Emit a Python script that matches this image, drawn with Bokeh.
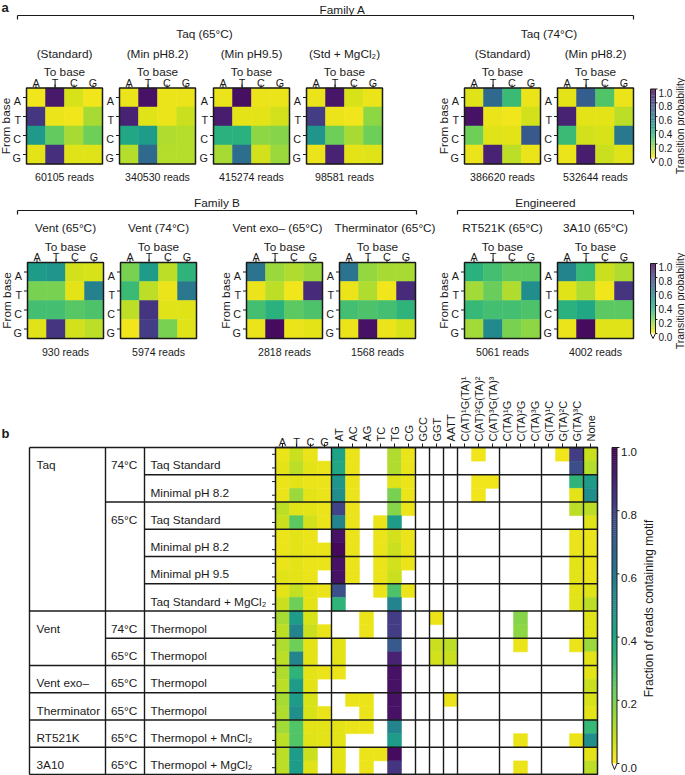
import numpy as np
from bokeh.plotting import figure
from bokeh.models import ColumnDataSource, LinearColorMapper
from bokeh.palettes import Viridis256
from bokeh.transform import transform
from bokeh.embed import file_html
from bokeh.resources import INLINE
from bokeh.core.properties import value

N = None
FONT = "Liberation Sans"
BASES = ["A", "T", "C", "G"]

# ---------------- Panel a data: transition probabilities (rows: from base, cols: to base)
taq65_standard = [[0.02, 0.93, 0.06, 0.02], [0.84, 0.03, 0.02, 0.13], [0.46, 0.24, 0.13, 0.22], [0.04, 0.86, 0.05, 0.05]]
taq65_min82 = [[0.03, 0.95, 0.03, 0.03], [0.90, 0.05, 0.03, 0.08], [0.40, 0.45, 0.12, 0.11], [0.11, 0.66, 0.11, 0.11]]
taq65_min95 = [[0.03, 0.96, 0.03, 0.03], [0.92, 0.04, 0.04, 0.07], [0.36, 0.36, 0.17, 0.18], [0.13, 0.64, 0.07, 0.15]]
taq65_mgcl2 = [[0.03, 0.94, 0.06, 0.03], [0.82, 0.03, 0.02, 0.17], [0.48, 0.22, 0.13, 0.22], [0.03, 0.90, 0.04, 0.05]]
taq74_standard = [[0.05, 0.66, 0.32, 0.03], [0.95, 0.03, 0.02, 0.07], [0.22, 0.05, 0.04, 0.72], [0.03, 0.90, 0.10, 0.03]]
taq74_min82 = [[0.04, 0.70, 0.27, 0.03], [0.90, 0.04, 0.04, 0.10], [0.32, 0.07, 0.06, 0.60], [0.03, 0.92, 0.08, 0.05]]
vent65 = [[0.45, 0.48, 0.07, 0.06], [0.20, 0.20, 0.04, 0.56], [0.30, 0.30, 0.26, 0.28], [0.05, 0.85, 0.07, 0.10]]
vent74 = [[0.20, 0.45, 0.10, 0.35], [0.32, 0.10, 0.03, 0.60], [0.10, 0.85, 0.05, 0.05], [0.02, 0.82, 0.20, 0.05]]
vent_exo65 = [[0.62, 0.15, 0.12, 0.15], [0.03, 0.10, 0.02, 0.88], [0.30, 0.36, 0.25, 0.28], [0.03, 0.97, 0.03, 0.04]]
therminator65 = [[0.62, 0.16, 0.13, 0.13], [0.03, 0.12, 0.02, 0.88], [0.30, 0.28, 0.30, 0.35], [0.03, 0.95, 0.03, 0.06]]
rt521k65 = [[0.36, 0.30, 0.25, 0.25], [0.14, 0.23, 0.12, 0.50], [0.33, 0.30, 0.30, 0.28], [0.14, 0.52, 0.20, 0.17]]
a3a10_65 = [[0.55, 0.33, 0.08, 0.12], [0.05, 0.12, 0.02, 0.85], [0.36, 0.40, 0.25, 0.25], [0.03, 0.97, 0.05, 0.05]]

row1_maps = [taq65_standard, taq65_min82, taq65_min95, taq65_mgcl2, taq74_standard, taq74_min82]
row1_titles = ["(Standard)", "(Min pH8.2)", "(Min pH9.5)", "(Std + MgCl\u2082)", "(Standard)", "(Min pH8.2)"]
row1_reads = ["60105 reads", "340530 reads", "415274 reads", "98581 reads", "386620 reads", "532644 reads"]
row2_maps = [vent65, vent74, vent_exo65, therminator65, rt521k65, a3a10_65]
row2_titles = ["Vent (65\u00b0C)", "Vent (74\u00b0C)", "Vent exo\u2013 (65\u00b0C)", "Therminator (65\u00b0C)", "RT521K (65\u00b0C)", "3A10 (65\u00b0C)"]
row2_reads = ["930 reads", "5974 reads", "2818 reads", "1568 reads", "5061 reads", "4002 reads"]

# ---------------- Panel b data: fraction of reads containing motif
motif_labels = ["A", "T", "C", "G", "AT", "AC", "AG", "TC", "TG", "CG", "GCC", "GGT", "AATT",
                "C(AT)\u00b9G(TA)\u00b9", "C(AT)\u00b2G(TA)\u00b2", "C(AT)\u00b3G(TA)\u00b3",
                "C(TA)\u00b9G", "C(TA)\u00b2G", "C(TA)\u00b3G", "G(TA)\u00b9C", "G(TA)\u00b2C", "G(TA)\u00b3C", "None"]
polymerases = ["Taq", "Taq", "Taq", "Taq", "Taq", "Taq", "Vent", "Vent", "Vent exo\u2013", "Therminator", "RT521K", "3A10"]
temperatures = ["74\u00b0C", "74\u00b0C", "65\u00b0C", "65\u00b0C", "65\u00b0C", "65\u00b0C", "74\u00b0C", "65\u00b0C", "65\u00b0C", "65\u00b0C", "65\u00b0C", "65\u00b0C"]
buffers = ["Taq Standard", "Minimal pH 8.2", "Taq Standard", "Minimal pH 8.2", "Minimal pH 9.5", "Taq Standard + MgCl\u2082",
           "Thermopol", "Thermopol", "Thermopol", "Thermopol", "Thermopol + MnCl\u2082", "Thermopol + MgCl\u2082"]

taq74_std_motifs = [
    [.03, .08, .03, N, .42, .03, N, N, .12, .03, N, N, N, N, .02, N, N, N, N, N, .02, .82, .08],
    [.04, .10, .04, .03, .40, .03, N, N, .12, .03, N, N, N, N, N, N, N, N, N, N, N, .76, .11]]
taq74_min82_motifs = [
    [.03, .04, .03, .03, .48, .03, N, N, .05, .03, N, N, N, N, .02, .02, N, N, N, N, N, .35, .45],
    [.03, .15, .04, .03, .50, .03, N, N, .20, .03, N, N, N, N, .02, N, N, N, N, N, N, .04, .50]]
taq65_std_motifs = [
    [.10, .05, .04, .03, .80, .03, N, N, .18, .03, N, N, N, N, N, N, N, N, N, N, N, .10, .10],
    [.08, .25, .07, .03, .55, .03, N, .03, .45, N, N, N, N, N, N, N, N, N, N, N, N, N, .05]]
taq65_min82_motifs = [
    [.03, .04, .03, N, .95, .03, N, .03, .07, .03, N, N, N, N, N, N, N, N, N, N, N, .03, .03],
    [.03, .04, .03, .03, .98, .03, N, .03, .08, .03, N, N, N, N, N, N, N, N, N, N, N, .03, .03]]
taq65_min95_motifs = [
    [.03, .04, .03, .03, .95, .03, N, .03, .07, .03, N, N, N, N, N, N, N, N, N, N, N, .04, .03],
    [.05, .04, .03, N, .95, .03, N, .03, .08, N, N, N, N, N, N, N, N, N, N, N, N, .04, .03]]
taq65_mgcl2_motifs = [
    [.04, .09, .04, .03, .75, N, N, .03, .28, .03, N, N, N, N, N, N, N, N, N, N, N, .04, .05],
    [.08, .22, .04, N, .35, N, N, N, .55, N, N, N, N, N, N, N, N, N, N, N, N, .05, .10]]
vent74_motifs = [
    [.13, .45, .06, N, N, N, .03, N, .82, N, N, .03, N, N, N, N, N, .18, N, N, N, N, .05],
    [.10, .55, .08, .03, N, N, .03, N, .82, N, N, N, N, N, N, N, N, .17, N, N, N, N, .05]]
vent65_motifs = [
    [.12, .22, .04, N, .04, N, N, N, .72, N, N, .08, .10, N, N, N, N, .03, N, N, N, .03, .15],
    [.10, .55, .04, N, .04, N, N, N, .90, N, N, .07, .08, N, N, N, N, N, N, N, N, N, .04]]
vent_exo_motifs = [
    [.12, .35, .04, .03, .03, N, N, N, .95, N, N, N, N, N, N, N, N, N, N, N, N, N, .04],
    [.10, .45, .04, N, N, N, N, N, .95, N, N, N, N, N, N, N, N, N, N, N, N, N, .08]]
therminator_motifs = [
    [.13, .45, .06, N, N, .03, .03, N, .95, N, N, N, .03, N, N, N, N, N, N, N, N, N, .06],
    [.12, .50, .06, .03, N, N, .03, N, .95, N, N, N, N, N, N, N, N, N, N, N, N, N, .04]]
rt521k_motifs = [
    [.14, .27, .04, .04, .04, .03, .03, N, .55, N, N, N, N, N, N, N, N, N, N, N, N, N, .33],
    [.10, .27, .05, .04, .04, N, N, N, .45, N, N, N, N, N, N, N, N, .03, N, N, N, .03, .50]]
a3a10_motifs = [
    [.10, .45, .08, N, .04, N, .03, .03, .97, N, N, N, N, N, N, N, N, N, N, N, N, N, .04],
    [.10, .45, .05, N, .04, N, .03, N, .85, N, N, N, N, N, N, N, N, .03, N, N, N, N, .10]]

condition_motifs = [taq74_std_motifs, taq74_min82_motifs, taq65_std_motifs, taq65_min82_motifs,
                    taq65_min95_motifs, taq65_mgcl2_motifs, vent74_motifs, vent65_motifs,
                    vent_exo_motifs, therminator_motifs, rt521k_motifs, a3a10_motifs]
colorbar_ticks = [0.0, 0.2, 0.4, 0.6, 0.8, 1.0]

# ---------------- figure
mapper = LinearColorMapper(palette=list(Viridis256[::-1]), low=0, high=1)
p = figure(width=685, height=775, x_range=(0, 685), y_range=(775, 0),
           output_backend="svg", toolbar_location=None, min_border=0,
           x_axis_location=None, y_axis_location=None, outline_line_color=None)
p.grid.visible = False
p.background_fill_color = "white"
p.border_fill_color = "white"

TXT = "#1a1a1a"


def txt(x, y, s, size, align="left", baseline="alphabetic", angle=0.0, bold=False):
    p.text(x=[x], y=[y], text=[s], text_font=value(FONT), text_font_size=f"{size}px",
           text_align=align, text_baseline=baseline, angle=angle, text_color=TXT,
           text_font_style="bold" if bold else "normal")


def seg(x0, y0, x1, y1, w=1.2, color="#1a1a1a"):
    p.segment(x0=x0, y0=y0, x1=x1, y1=y1, line_color=color, line_width=w)


# ---------------- panel a
CELL = 19


def small_heatmap(M, left, top, title, reads, from_label, title_dx=0.0):
    xs, ys, vs = [], [], []
    for i, row in enumerate(M):
        for j, v in enumerate(row):
            xs.append(left + (j + 0.5) * CELL)
            ys.append(top + (i + 0.5) * CELL)
            vs.append(v)
    src = ColumnDataSource(dict(x=xs, y=ys, v=vs))
    p.rect(x="x", y="y", width=CELL, height=CELL, source=src,
           fill_color=transform("v", mapper), line_color=transform("v", mapper), line_width=0.5)
    size = 4 * CELL
    p.rect(x=[left + size / 2], y=[top + size / 2], width=size, height=size,
           fill_color=None, line_color="#1a1a1a", line_width=1.5)
    centers = [left + (k + 0.5) * CELL for k in range(4)]
    rcenters = [top + (k + 0.5) * CELL for k in range(4)]
    seg(centers, [top - 3.5] * 4, centers, [top] * 4, 1.0)
    seg([left - 3.5] * 4, rcenters, [left] * 4, rcenters, 1.0)
    for k, b in enumerate(BASES):
        txt(centers[k], top - 5.5, b, 10.8, "center")
        txt(left - 5.5, rcenters[k] + 3.9, b, 10.8, "right")
    txt(left + size / 2, top - 16, "To base", 11.8, "center")
    txt(left + size / 2 + title_dx, top - 34.5, title, 11.8, "center")
    txt(left + size / 2, top + size + 13, reads, 10.6, "center")
    if from_label:
        txt(left - 20.5, top + size / 2, "From base", 11.8, "center", "middle", np.pi / 2)


def colorbar(x0, x1, y_top, y_zero, tri, fs, label, label_x, label_fs, tick_len=2.5, gap=1.5):
    xm = (x0 + x1) / 2
    vals = np.linspace(0, 1, 161)
    span = y_zero - y_top
    step = span / 160
    ys = y_zero - vals * span
    src = ColumnDataSource(dict(l=[x0] * len(vals), r=[x1] * len(vals),
                                t=[max(t, y_top) for t in (ys - step * 0.6)],
                                b=[min(b, y_zero) for b in (ys + step * 0.6)], v=list(vals)))
    p.quad(left="l", right="r", top="t", bottom="b", source=src,
           fill_color=transform("v", mapper), line_color=None)
    p.patch(x=[x0, x1, x1, xm, x0, x0], y=[y_top, y_top, y_zero, y_zero + tri, y_zero, y_top],
            fill_color=None, line_color="#1a1a1a", line_width=1.0)
    for t in colorbar_ticks:
        yy = y_zero - t * span
        seg([x1], [yy], [x1 + tick_len], [yy], 1.0)
        txt(x1 + tick_len + gap, yy + 0.358 * fs, f"{t:.1f}", fs, "left")
    txt(label_x, y_top + span / 2 + tri / 2, label, label_fs, "center", "middle", np.pi / 2)


txt(1, 6.5, "a", 13, "left", bold=True)

row1_lefts = [26, 119, 213, 306, 464, 557]
row2_lefts = [27, 120, 246, 339, 464, 557]
row1_from = [True, False, False, False, True, False]
row2_from = [True, False, True, False, True, False]
row2_title_dx = [0, 0, -7, 7.5, 0, 0]
ROW1_TOP, ROW2_TOP = 87.5, 262

for M, l, t, r, f in zip(row1_maps, row1_lefts, row1_titles, row1_reads, row1_from):
    small_heatmap(M, l, ROW1_TOP, t, r, f)
for M, l, t, r, f, dx in zip(row2_maps, row2_lefts, row2_titles, row2_reads, row2_from, row2_title_dx):
    small_heatmap(M, l, ROW2_TOP, t, r, f, dx)


def bracket(x0, x1, y, label, label_x, label_y):
    seg([x0], [y], [x1], [y], 1.2)
    seg([x0, x1], [y, y], [x0, x1], [y + 4, y + 4], 1.2)
    txt(label_x, label_y, label, 11.8, "center")


bracket(17, 633, 15, "Family A", 342, 9.5)
txt((row1_lefts[0] + row1_lefts[3] + 4 * CELL) / 2, 33, "Taq (65\u00b0C)", 11.8, "center")
txt((row1_lefts[4] + row1_lefts[5] + 4 * CELL) / 2, 33, "Taq (74\u00b0C)", 11.8, "center")
bracket(17, 416, 210, "Family B", 216.5, 202)
bracket(457, 633, 210, "Engineered", 545, 202)

colorbar(650, 655, 88.5, 157.5, 5, 10, "Transition probability", 679.5, 10.5, tick_len=2, gap=1)
colorbar(650, 655, 263, 333, 5, 10, "Transition probability", 679.5, 10.5, tick_len=2, gap=1)

# ---------------- panel b
txt(1, 433, "b", 13, "left", bold=True)
B_LEFT, B_TOP = 275, 447
COL_W, ROW_H = 14, 13.625
n_cols = len(motif_labels)
n_rows = 2 * len(condition_motifs)
B_RIGHT = B_LEFT + n_cols * COL_W
B_BOTTOM = B_TOP + n_rows * ROW_H

xs, ys, vs = [], [], []
for ci, cond in enumerate(condition_motifs):
    for rep, rowvals in enumerate(cond):
        r = 2 * ci + rep
        for j, v in enumerate(rowvals):
            if v is None:
                continue
            xs.append(B_LEFT + (j + 0.5) * COL_W)
            ys.append(B_TOP + (r + 0.5) * ROW_H)
            vs.append(v)
bsrc = ColumnDataSource(dict(x=xs, y=ys, v=vs))
p.rect(x="x", y="y", width=COL_W, height=ROW_H, source=bsrc,
       fill_color=transform("v", mapper), line_color=transform("v", mapper), line_width=0.5)

for j, lab in enumerate(motif_labels):
    xc = B_LEFT + (j + 0.5) * COL_W
    seg([xc], [B_TOP - 4], [xc], [B_TOP], 1.0)
    if j < 4:
        txt(xc, B_TOP - 5.5, lab, 11, "center")
    else:
        txt(xc, B_TOP - 6, lab, 11, "left", "middle", np.pi / 2)

for r in range(n_rows):
    yc = B_TOP + (r + 0.5) * ROW_H
    seg([B_LEFT - 3.5], [yc], [B_LEFT], [yc], 1.0)

sep_after = [4, 10, 11, 12, 13, 16, 19, 22]
for k in sep_after:
    xx = B_LEFT + k * COL_W
    seg([xx], [B_TOP], [xx], [B_BOTTOM], 1.4)

T_X0, T_X1, T_X2 = 29, 105, 144
COND_H = 2 * ROW_H
seg([T_X0, T_X1, T_X2], [B_TOP] * 3, [T_X0, T_X1, T_X2], [B_BOTTOM] * 3, 1.4)
p.rect(x=[(B_LEFT + B_RIGHT) / 2], y=[(B_TOP + B_BOTTOM) / 2], width=B_RIGHT - B_LEFT,
       height=B_BOTTOM - B_TOP, fill_color=None, line_color="#1a1a1a", line_width=1.5)
seg([T_X0, T_X0], [B_TOP, B_BOTTOM], [B_RIGHT, B_RIGHT], [B_TOP, B_BOTTOM], 1.5)

for k in range(len(buffers)):
    yc = B_TOP + (k + 0.5) * COND_H
    new_poly = k == 0 or polymerases[k] != polymerases[k - 1]
    new_temp = new_poly or temperatures[k] != temperatures[k - 1]
    if k > 0:
        yb = B_TOP + k * COND_H
        xstart = T_X0 if new_poly else (T_X1 if new_temp else T_X2)
        seg([xstart], [yb], [B_RIGHT], [yb], 1.4)
    base_y = yc + 0.358 * 11.8
    if new_poly:
        txt(36, base_y, polymerases[k], 11.8, "left")
    if new_temp:
        txt(110.5, base_y, temperatures[k], 11.8, "left")
    txt(150, base_y, buffers[k], 11.8, "left")

colorbar(611.5, 616.5, B_TOP, 763, 6, 11.5, "Fraction of reads containing motif", 648, 12,
         tick_len=2.5, gap=1.5)

open("out.html", "w").write(file_html(p, INLINE))
